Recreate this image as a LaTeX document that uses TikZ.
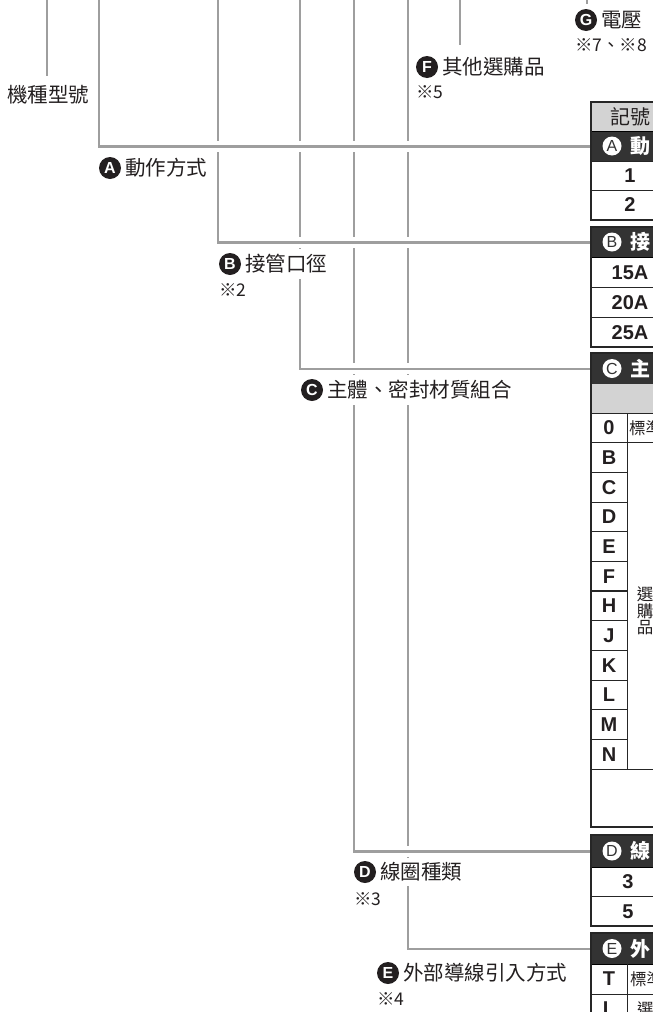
\documentclass[tikz,border=0pt]{standalone}
\usepackage{fontspec}
\setmainfont{Liberation Sans}
\newfontfamily\cjk{Noto Sans CJK TC}
\usepackage{xcolor}
\usepackage{tikz}
\usetikzlibrary{positioning}
\definecolor{linegray}{HTML}{9E9E9E}
\definecolor{headdark}{HTML}{333333}
\definecolor{cellgray}{HTML}{D3D3D3}
\definecolor{ink}{HTML}{231F20}

\begin{document}
\begin{tikzpicture}[x=1pt, y=-1pt, text=ink,
  branch/.style={draw=linegray, line width=2.5pt, preaction={draw=white, line width=11pt}},
  stub/.style={draw=linegray, line width=2.5pt},
  dot/.style={circle, fill=ink, text=white, inner sep=0pt, minimum size=22pt, font=\bfseries\fontsize{16}{16}\selectfont},
  lbl/.style={fill=white, inner xsep=1pt, inner ysep=5pt, font=\cjk\fontsize{20.5}{21}\selectfont},
  note/.style={anchor=west, inner sep=0pt, font=\cjk\fontsize{17.5}{17.5}\selectfont},
  head/.style={anchor=north west, fill=headdark, draw=black, line width=0.8pt, minimum width=89pt, inner sep=0pt},
  hdot/.style={circle, fill=white, text=headdark, inner sep=0pt, minimum size=19pt, font=\fontsize{16}{16}\selectfont},
  htext/.style={text=white, inner sep=0pt, font=\cjk\bfseries\fontsize{20}{20}\selectfont},
  cell/.style={draw=black!85, line width=0.8pt},
  frame/.style={draw=black!85, line width=2pt},
  code/.style={inner sep=0pt, font=\bfseries\fontsize{20}{20}\selectfont},
  cjktext/.style={inner sep=0pt, font=\cjk\fontsize{16.5}{16.5}\selectfont}]

  \useasboundingbox (0,0) rectangle (653,1012);
  \clip (0,0) rectangle (653,1012);

  \fill[cellgray] (591,102) rectangle (680,131);
  \node[cjktext, font=\cjk\fontsize{20}{20}\selectfont] at (630,117) {記號};
  \node[head, minimum height=30pt] (hdrA) at (591,131) {};
  \node[hdot] (hA) at (612,146) {A};
  \node[htext, right=9pt of hA] {動};
  \draw[cell] (591,161) -- (680,161) (591,190.5) -- (680,190.5);
  \node[code] at (630,176) {1};
  \node[code] at (630,205) {2};

  \node[head, minimum height=30pt] (hdrB) at (591,227) {};
  \node[hdot] (hB) at (612,242) {B};
  \node[htext, right=9pt of hB] {接};
  \draw[cell] (591,287) -- (680,287) (591,317) -- (680,317);
  \node[code] at (630,272.5) {15A};
  \node[code] at (630,302.5) {20A};
  \node[code] at (630,332.5) {25A};

  \node[head, minimum height=31pt] (hdrC) at (591,353) {};
  \node[hdot] (hC) at (612,368.5) {C};
  \node[htext, right=9pt of hC] {主};
  \fill[cellgray] (591,384) rectangle (680,413);
  \draw[cell] (591,413) -- (680,413) (627,442.67) -- (680,442.67) (591,769) -- (680,769);
  \foreach \c [count=\i from 0] in {0,B,C,D,E,F,H,J,K,L,M,N} {
    \draw[cell] (591,{413+29.67*\i}) rectangle (627,{442.67+29.67*\i});
    \node[code] at (609,{428+29.67*\i}) {\c};
  }
  \draw[black!85, line width=2pt] (591,591) -- (627,591);
  \node[cjktext, anchor=west] at (629,428) {標準};
  \node[cjktext, align=center] at (645,611) {選\\購\\品};

  \node[head, minimum height=32pt] (hdrD) at (591,835) {};
  \node[hdot] (hD) at (612,851) {D};
  \node[htext, right=9pt of hD] {線};
  \draw[cell] (591,896.5) -- (680,896.5);
  \node[code] at (628,882) {3};
  \node[code] at (628,911.5) {5};

  \node[head, minimum height=31pt] (hdrE) at (591,933) {};
  \node[hdot] (hE) at (612,948.5) {E};
  \node[htext, right=9pt of hE] {外};
  \draw[cell] (591,994) -- (680,994) (627,964) -- (627,1024);
  \node[code] at (609,979) {T};
  \node[code] at (609,1009) {L};
  \node[cjktext, anchor=west] at (630,979) {標準};
  \node[cjktext, anchor=west] at (637,1009) {選};

  \coordinate (topM) at (47,0);
  \coordinate (topA) at (99,0);
  \coordinate (topB) at (218,0);
  \coordinate (topC) at (300,0);
  \coordinate (topD) at (354,0);
  \coordinate (topE) at (408,0);
  \coordinate (topF) at (460,0);
  \coordinate (topG) at (587,0);

  \draw[branch] (topE) |- (hdrE.west);
  \draw[branch] (topD) |- (hdrD.west);
  \draw[branch] (topC) |- (hdrC.west);
  \draw[branch] (topB) |- (hdrB.west);
  \draw[branch] (topA) |- (hdrA.west);

  \node[lbl] (model) at (48,95) {機種型號};

  \node[dot] (cA) at (110,168) {A};
  \node[lbl, right=3pt of cA] (lblA) {動作方式};

  \node[dot] (cB) at (230,264) {B};
  \node[lbl, right=3pt of cB] (lblB) {接管口徑};
  \node[note] (noteB) at ([yshift=-26pt]cB.west) {※2};

  \node[dot] (cC) at (312,390) {C};
  \node[lbl, right=3pt of cC] (lblC) {主體、密封材質組合};

  \node[dot] (cD) at (365,872) {D};
  \node[lbl, right=3pt of cD] (lblD) {線圈種類};
  \node[note] (noteD) at ([yshift=-27pt]cD.west) {※3};

  \node[dot] (cE) at (388,973) {E};
  \node[lbl, right=3pt of cE] (lblE) {外部導線引入方式};
  \node[note] (noteE) at ([yshift=-26pt]cE.west) {※4};

  \node[dot] (cF) at (427,67) {F};
  \node[lbl, right=3pt of cF] (lblF) {其他選購品};
  \node[note] (noteF) at ([yshift=-25pt]cF.west) {※5};

  \node[dot] (cG) at (586,20) {G};
  \node[lbl, right=3pt of cG] (lblG) {電壓};
  \node[note] (noteG) at ([yshift=-25pt]cG.west) {※7、※8};

  \draw[stub, shorten >=4pt] (topM) -- (topM |- model.north);
  \draw[stub, shorten >=7pt] (topF) -- (topF |- lblF.north);
  \draw[stub, shorten >=5pt] (topG) -- (topG |- cG.north);

  \draw[frame] (591,102) rectangle (680,220);
  \draw[frame] (591,227) rectangle (680,347);
  \draw[frame] (591,353) rectangle (680,827);
  \draw[frame] (591,835) rectangle (680,926);
  \draw[frame] (591,933) rectangle (680,1024);
\end{tikzpicture}
\end{document}
